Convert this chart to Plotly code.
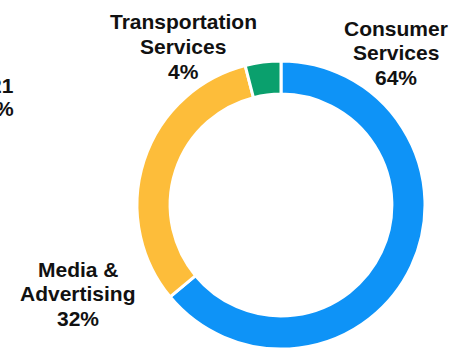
import plotly.graph_objects as go

# Revenue mix by segment
segments = ["Consumer Services", "Media & Advertising", "Transportation Services"]
shares = [64, 32, 4]
colors = ["#0E93F7", "#FDBD3A", "#0AA06D"]

# Label lines for each segment (name split across lines, then the share)
label_lines = [["Consumer", "Services"], ["Media &", "Advertising"], ["Transportation", "Services"]]

W, H = 449, 349

fig = go.Figure(
    go.Pie(
        labels=segments,
        values=shares,
        hole=0.77,
        sort=False,
        direction="clockwise",
        rotation=0,
        textinfo="none",
        hoverinfo="label+percent",
        marker=dict(colors=colors, line=dict(color="white", width=3)),
        domain=dict(x=[137 / W, 425 / W], y=[0, 288 / H]),
        showlegend=False,
    )
)

# Label anchor points (pixel x, pixel y of first line), one per segment
label_pos = [(396, 28), (78, 269), (183, 22)]
line_step = 24.5

font = dict(family="Liberation Sans, Arial, sans-serif", size=21, color="#111111", weight="bold")

annotations = []
for lines, share, (px, py) in zip(label_lines, shares, label_pos):
    for i, txt in enumerate(lines + [f"{share}%"]):
        annotations.append(
            dict(
                x=px / W, y=1 - (py + i * line_step) / H,
                xref="paper", yref="paper",
                text=txt, showarrow=False,
                xanchor="center", yanchor="middle",
                font=font,
            )
        )

# Neighbouring panel's label, partly off the left edge
for txt, py in [("21", 86), ("%", 108)]:
    annotations.append(
        dict(
            x=16 / W, y=1 - py / H, xref="paper", yref="paper",
            text=txt, showarrow=False, xanchor="right", yanchor="middle",
            font=font,
        )
    )

fig.update_layout(
    width=W, height=H,
    margin=dict(l=0, r=0, t=0, b=0),
    paper_bgcolor="white",
    plot_bgcolor="white",
    annotations=annotations,
)

fig.write_html("out.html")
